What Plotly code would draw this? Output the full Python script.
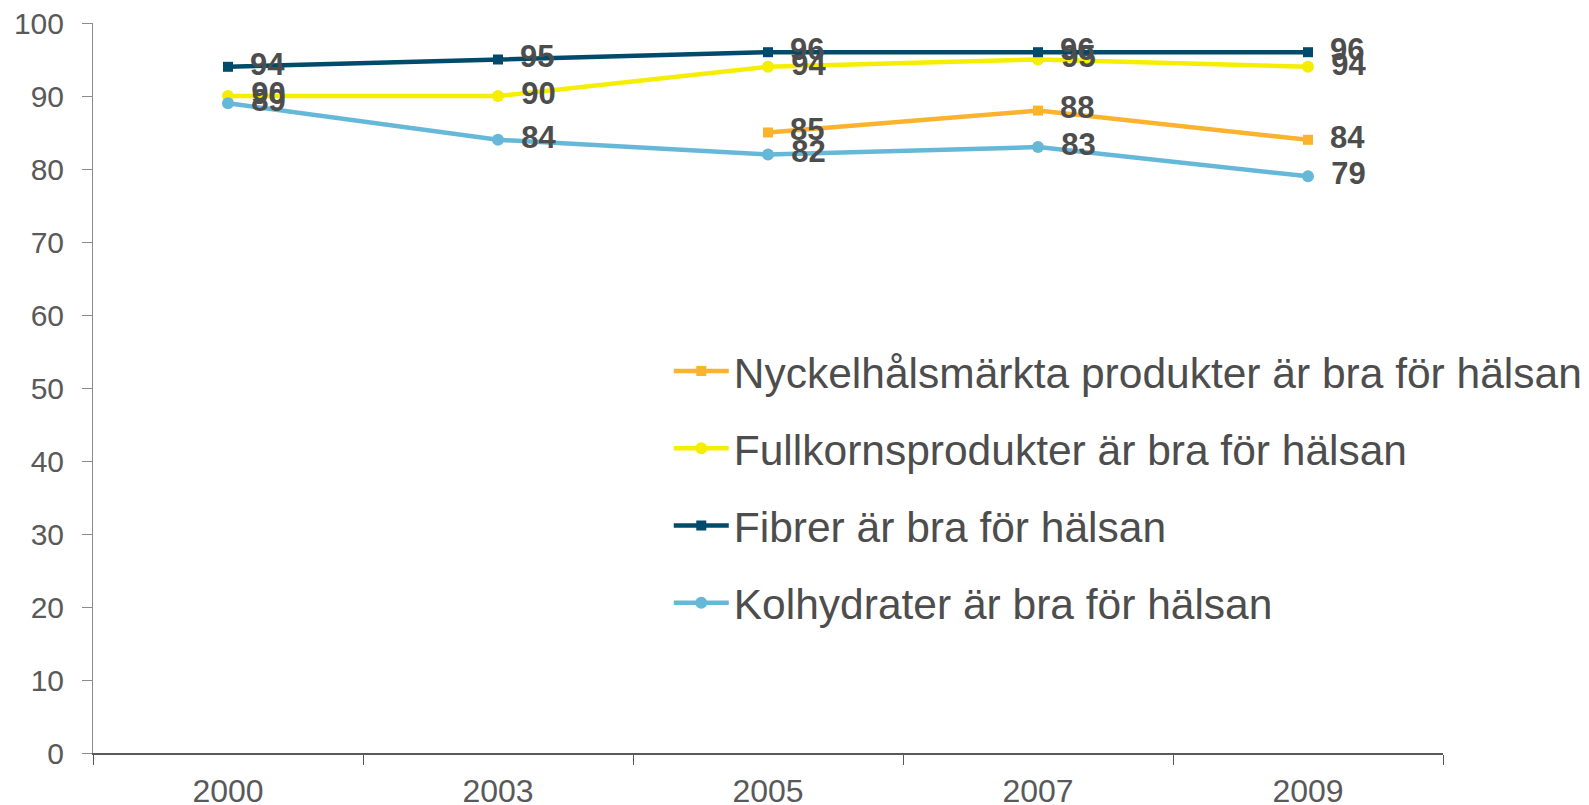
import plotly.graph_objects as go

# Survey years (category axis)
years = ["2000", "2003", "2005", "2007", "2009"]

# Share (%) agreeing with each statement
nyckelhal = [None, None, 85, 88, 84]
fullkorn = [90, 90, 94, 95, 94]
fibrer = [94, 95, 96, 96, 96]
kolhydrater = [89, 84, 82, 83, 79]

names = [
    "Nyckelhålsmärkta produkter är bra för hälsan",
    "Fullkornsprodukter är bra för hälsan",
    "Fibrer är bra för hälsan",
    "Kolhydrater är bra för hälsan",
]

series = [
    (names[0], nyckelhal, "#FBB22C", "square", 10),
    (names[1], fullkorn, "#F5EE00", "circle", 12),
    (names[2], fibrer, "#004B6B", "square", 10),
    (names[3], kolhydrater, "#66B8D8", "circle", 12),
]

fig = go.Figure()
for i, (name, vals, color, symbol, msize) in enumerate(series):
    fig.add_trace(go.Scatter(
        x=years, y=vals, name=name, legendgroup=str(i),
        mode="lines+markers+text",
        line=dict(color=color, width=4.5),
        marker=dict(color=color, symbol=symbol, size=msize),
        texttemplate="\u00a0\u2009%{y}",
        textposition="middle right",
        textfont=dict(family="Liberation Sans, Arial", size=31, color="#4D4D4D", weight="bold"),
        cliponaxis=False,
    ))

# page body has an 8px margin, so the figure is sized to fit the window
fig.update_layout(
    width=1581, height=797,
    margin=dict(l=85, r=146, t=15, b=52, autoexpand=False),
    plot_bgcolor="white", paper_bgcolor="white",
    font=dict(family="Liberation Sans, Arial", color="#595959"),
    showlegend=True,
    legend=dict(
        x=0.4265, y=0.57, xanchor="left", yanchor="top",
        font=dict(size=42.5, color="#4D4D4D"),
        traceorder="grouped", tracegroupgap=19,
        itemwidth=55,
        bgcolor="rgba(0,0,0,0)",
    ),
)

fig.update_xaxes(
    type="category", tickson="boundaries", automargin=False,
    range=[-0.5, len(years) - 0.5],
    showline=True, linecolor="#595959", linewidth=1.5,
    ticks="outside", ticklen=10, tickcolor="#595959",
    tickfont=dict(size=32, color="#595959"),
    ticklabelstandoff=9, ticklabeloverflow="allow",
    showgrid=False, zeroline=False,
)
fig.update_yaxes(
    range=[0, 100], dtick=10, automargin=False,
    showline=True, linecolor="#8C8C8C", linewidth=1,
    ticks="outside", ticklen=10, tickcolor="#8C8C8C",
    tickfont=dict(size=30, color="#595959"),
    ticklabelstandoff=12, ticklabeloverflow="allow",
    showgrid=False, zeroline=False,
)

fig.write_html("out.html")
